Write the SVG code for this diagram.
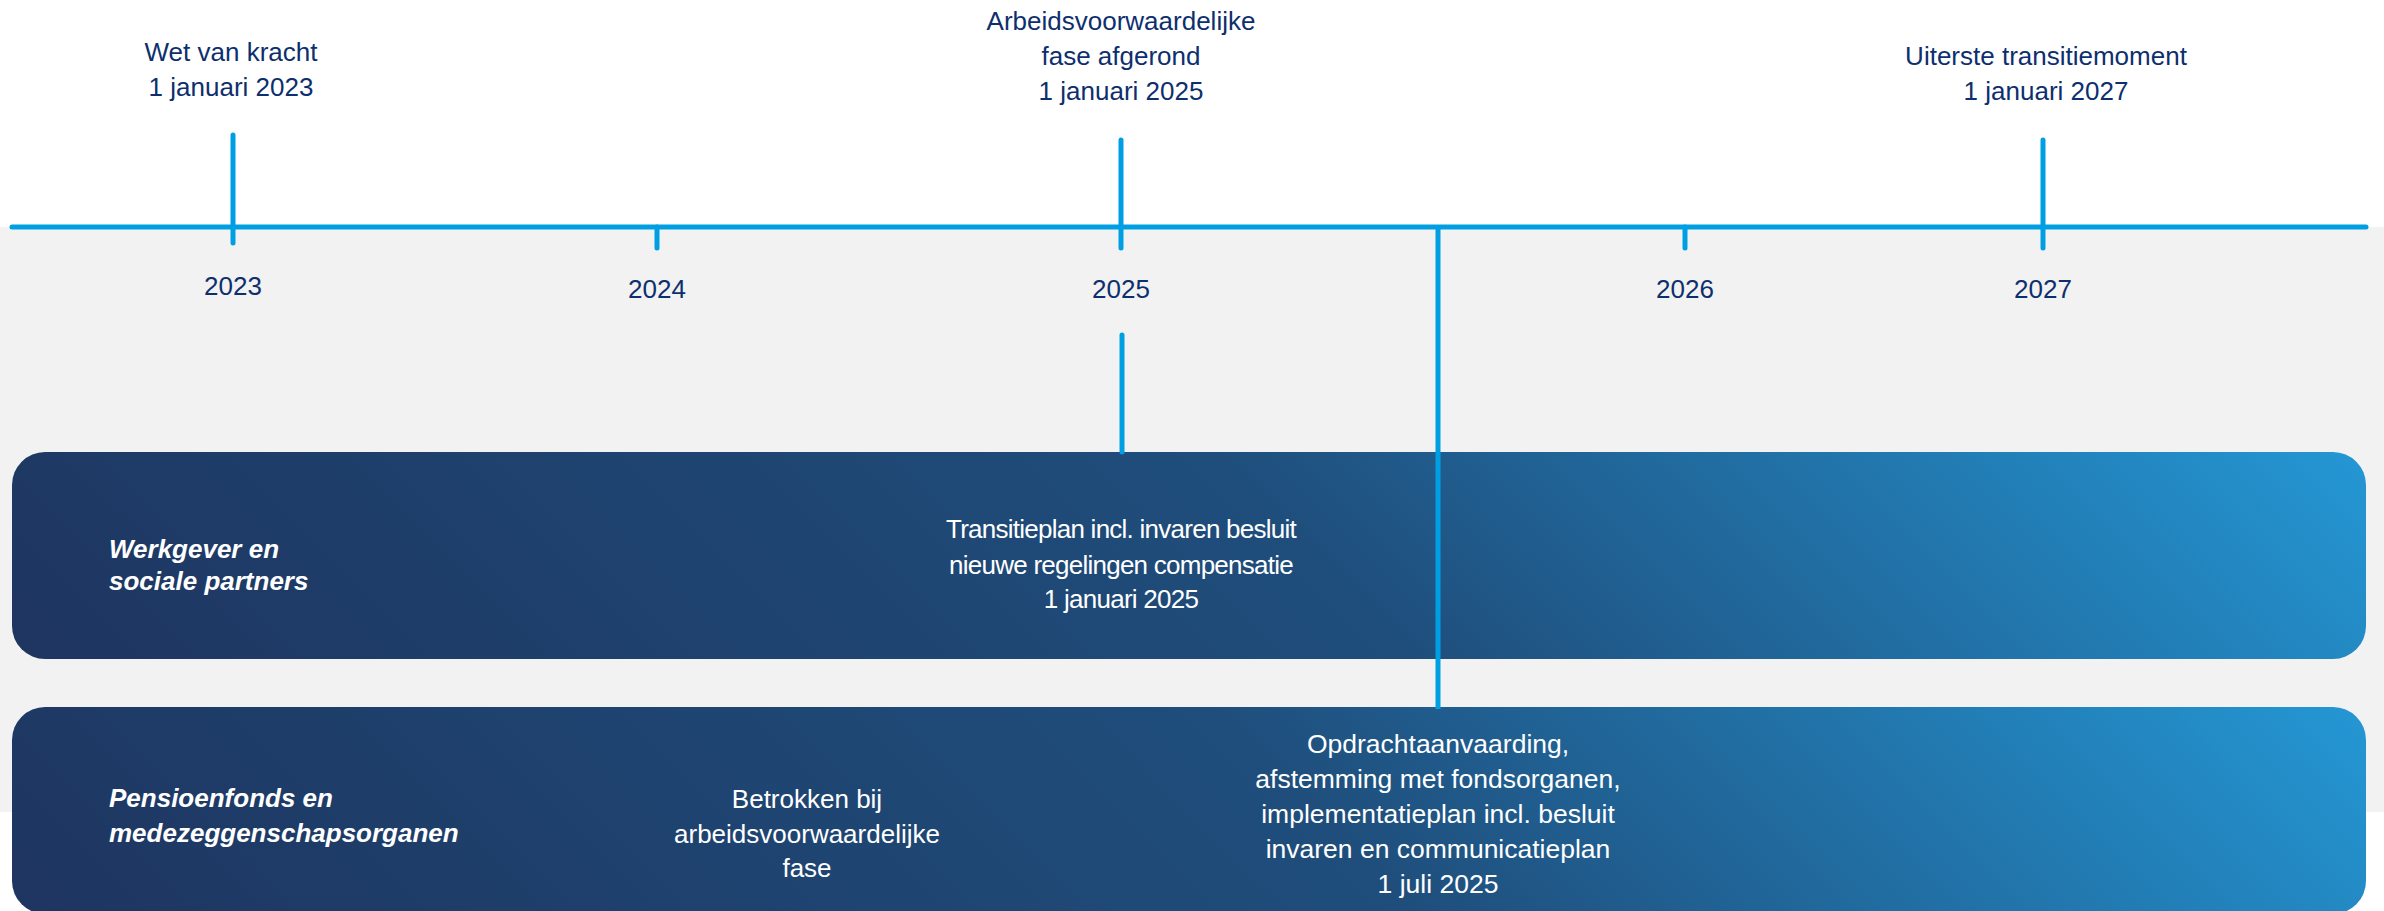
<svg xmlns="http://www.w3.org/2000/svg" width="2384" height="911" viewBox="0 0 2384 911">
  <defs>
    <linearGradient id="g1" gradientUnits="userSpaceOnUse" x1="12" y1="659" x2="1292" y2="-621">
      <stop offset="0" stop-color="#1e3560"/>
      <stop offset="0.55" stop-color="#1f4e7c"/>
      <stop offset="1" stop-color="#2497d4"/>
    </linearGradient>
    <linearGradient id="g2" gradientUnits="userSpaceOnUse" x1="12" y1="914" x2="1292" y2="-366">
      <stop offset="0" stop-color="#1e3560"/>
      <stop offset="0.55" stop-color="#1f4e7c"/>
      <stop offset="1" stop-color="#2497d4"/>
    </linearGradient>
    <style>
      .ln { stroke: #009fe3; stroke-width: 5; stroke-linecap: round; fill: none; }
      .lbl { font-family: "Liberation Sans", Arial, sans-serif; font-size: 26px; fill: #0e2f6e; text-anchor: middle; }
      .wt { font-family: "Liberation Sans", Arial, sans-serif; font-size: 26px; fill: #ffffff; text-anchor: middle; }
      .hd { font-family: "Liberation Sans", Arial, sans-serif; font-size: 26px; fill: #ffffff; font-weight: bold; font-style: italic; }
    </style>
  </defs>

  <rect x="0" y="0" width="2384" height="911" fill="#ffffff"/>
  <rect x="0" y="227" width="2384" height="585" fill="#f2f2f2"/>

  <g id="lane-werkgever">
    <rect x="12" y="452" width="2354" height="207" rx="33" ry="33" fill="url(#g1)"/>
    <text class="hd" x="109"><tspan x="109" y="558">Werkgever en</tspan><tspan x="109" y="590">sociale partners</tspan></text>
  </g>

  <g id="lane-pensioenfonds">
    <rect x="12" y="707" width="2354" height="207" rx="33" ry="33" fill="url(#g2)"/>
    <text class="hd" x="109"><tspan x="109" y="807">Pensioenfonds en</tspan><tspan x="109" y="842">medezeggenschapsorganen</tspan></text>
  </g>

  <g id="connectors">
    <line class="ln" x1="12" y1="227" x2="2366" y2="227"/>
    <line class="ln" x1="233" y1="135" x2="233" y2="243"/>
    <line class="ln" x1="657" y1="227" x2="657" y2="248"/>
    <line class="ln" x1="1121" y1="140" x2="1121" y2="248"/>
    <line class="ln" x1="1685" y1="227" x2="1685" y2="248"/>
    <line class="ln" x1="2043" y1="140" x2="2043" y2="248"/>
    <line class="ln" x1="1122" y1="335" x2="1122" y2="452"/>
    <line x1="1438" y1="227" x2="1438" y2="709" stroke="#009fe3" stroke-width="5"/>
  </g>

  <g id="year-2023"><text class="lbl" x="233" y="295">2023</text></g>
  <g id="year-2024"><text class="lbl" x="657" y="298">2024</text></g>
  <g id="year-2025"><text class="lbl" x="1121" y="298">2025</text></g>
  <g id="year-2026"><text class="lbl" x="1685" y="298">2026</text></g>
  <g id="year-2027"><text class="lbl" x="2043" y="298">2027</text></g>

  <g id="milestone-wet">
    <text class="lbl"><tspan x="231" y="61">Wet van kracht</tspan><tspan x="231" y="96">1 januari 2023</tspan></text>
  </g>
  <g id="milestone-arbeid">
    <text class="lbl"><tspan x="1121" y="30">Arbeidsvoorwaardelijke</tspan><tspan x="1121" y="65">fase afgerond</tspan><tspan x="1121" y="100">1 januari 2025</tspan></text>
  </g>
  <g id="milestone-uiterste">
    <text class="lbl"><tspan x="2046" y="65">Uiterste transitiemoment</tspan><tspan x="2046" y="100">1 januari 2027</tspan></text>
  </g>

  <g id="task-transitieplan">
    <text class="wt" letter-spacing="-0.75"><tspan x="1121" y="538">Transitieplan incl. invaren besluit</tspan><tspan x="1121" y="574">nieuwe regelingen compensatie</tspan><tspan x="1121" y="608">1 januari 2025</tspan></text>
  </g>
  <g id="task-betrokken">
    <text class="wt"><tspan x="807" y="808">Betrokken bij</tspan><tspan x="807" y="843">arbeidsvoorwaardelijke</tspan><tspan x="807" y="877">fase</tspan></text>
  </g>
  <g id="task-opdracht">
    <text class="wt" style="font-size:26.5px"><tspan x="1438" y="753">Opdrachtaanvaarding,</tspan><tspan x="1438" y="788">afstemming met fondsorganen,</tspan><tspan x="1438" y="823">implementatieplan incl. besluit</tspan><tspan x="1438" y="858">invaren en communicatieplan</tspan><tspan x="1438" y="893">1 juli 2025</tspan></text>
  </g>
</svg>
